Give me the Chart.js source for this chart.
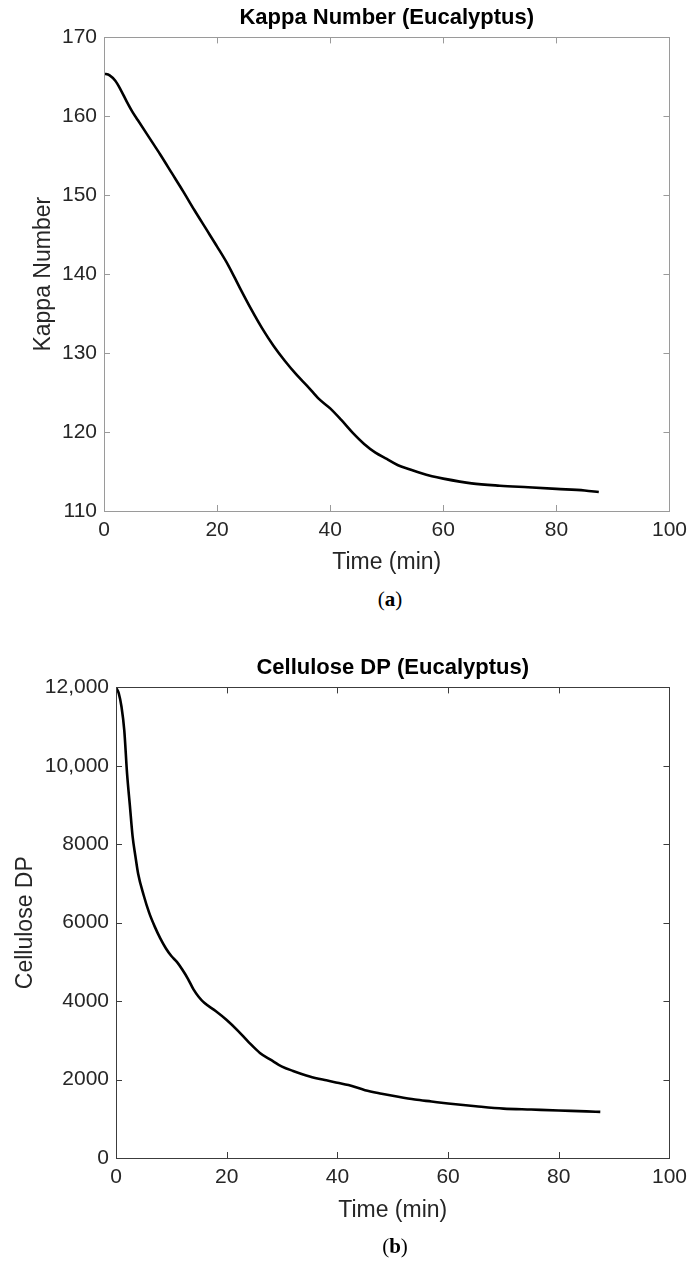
<!DOCTYPE html>
<html lang="en">
<head>
<meta charset="UTF-8">
<title>Kappa Number and Cellulose DP (Eucalyptus)</title>
<script src="https://cdn.jsdelivr.net/npm/chart.js"></script>
<style>
  body { margin: 0; background: #fff; width: 694px; height: 1261px; position: relative; overflow: hidden; }
  .box { position: absolute; left: 0; width: 694px; }
  .sub { position: absolute; width: 100px; text-align: center; font-family: "Liberation Serif", serif; font-size: 21px; color: #000; }
  .sub b { font-weight: bold; }
</style>
</head>
<body>
<div class="box" style="top:0; height:580px;"><canvas id="chartA"></canvas></div>
<div class="sub" style="left:340px; top:587px;">(<b>a</b>)</div>
<div class="box" style="top:640px; height:600px;"><canvas id="chartB"></canvas></div>
<div class="sub" style="left:345px; top:1234px;">(<b>b</b>)</div>

<script>
// kappa number vs time
const timeA  = [0, 1, 2, 3, 4, 5, 6, 8, 10, 12, 14, 16, 18, 20, 22, 24, 26, 28, 30, 32, 34, 36, 38, 40, 42, 44, 46, 48, 50, 52, 54, 56, 58, 60, 65, 70, 75, 80, 85, 87.5];
const kappaA = [165.4, 165.2, 164.5, 163.3, 161.9, 160.6, 159.5, 157.3, 155.1, 152.8, 150.5, 148.1, 145.8, 143.5, 141.1, 138.3, 135.6, 133.1, 130.9, 129.0, 127.3, 125.8, 124.2, 123.0, 121.5, 119.9, 118.5, 117.4, 116.6, 115.8, 115.3, 114.8, 114.4, 114.1, 113.5, 113.2, 113.0, 112.8, 112.6, 112.4];

// cellulose DP vs time
const timeB = [0, 0.5, 1, 1.5, 2, 2.5, 3, 3.5, 4, 5, 6, 7, 8, 9, 10, 11, 12, 13, 14, 15, 16, 18, 20, 22, 24, 26, 28, 30, 32, 35, 38, 40, 42, 45, 48, 51, 54, 57, 60, 65, 70, 75, 80, 85, 87.5];
const dpB   = [12000, 11850, 11500, 10900, 9800, 9000, 8200, 7700, 7250, 6700, 6250, 5900, 5600, 5350, 5150, 5000, 4800, 4570, 4300, 4100, 3950, 3750, 3520, 3250, 2950, 2680, 2500, 2330, 2220, 2080, 1980, 1920, 1860, 1730, 1640, 1560, 1490, 1440, 1390, 1320, 1260, 1235, 1210, 1190, 1175];

const yTicksA = ['110', '120', '130', '140', '150', '160', '170'];
const yTicksB = ['0', '2000', '4000', '6000', '8000', '10,000', '12,000'];

const FONT = '"Liberation Sans", Arial, sans-serif';
const TXT = '#262626';

// MATLAB-like box with inward ticks on all four sides
const boxTicks = {
  id: 'boxTicks',
  afterDatasetsDraw(chart, args, opts) {
    const ctx = chart.ctx;
    const a = chart.chartArea;
    const xs = chart.scales.x, ys = chart.scales.y;
    const len = 6;
    ctx.save();
    ctx.strokeStyle = opts.color;
    ctx.lineWidth = 1;
    ctx.beginPath();
    xs.ticks.forEach(t => {
      const px = Math.round(xs.getPixelForValue(t.value)) + 0.5;
      ctx.moveTo(px, a.bottom); ctx.lineTo(px, a.bottom - len);
      ctx.moveTo(px, a.top); ctx.lineTo(px, a.top + len);
    });
    ys.ticks.forEach(t => {
      const py = Math.round(ys.getPixelForValue(t.value)) + 0.5;
      ctx.moveTo(a.left, py); ctx.lineTo(a.left + len, py);
      ctx.moveTo(a.right, py); ctx.lineTo(a.right - len, py);
    });
    ctx.stroke();
    ctx.strokeRect(Math.round(a.left) + 0.5, Math.round(a.top) + 0.5, Math.round(a.right - a.left), Math.round(a.bottom - a.top));
    ctx.restore();
  }
};

function makeChart(id, xs, ys, cfg) {
  return new Chart(document.getElementById(id), {
    type: 'line',
    data: {
      datasets: [{
        data: xs.map((x, i) => ({ x: x, y: ys[i] })),
        borderColor: '#000',
        borderWidth: 2.6,
        pointRadius: 0,
        cubicInterpolationMode: 'monotone',
        fill: false
      }]
    },
    options: {
      responsive: true,
      maintainAspectRatio: false,
      animation: false,
      layout: { padding: { left: 0, right: cfg.right, top: 0, bottom: 0 } },
      plugins: {
        legend: { display: false },
        tooltip: { enabled: false },
        title: {
          display: true,
          fullSize: false,
          text: cfg.title,
          color: '#000',
          font: { family: FONT, size: 22, weight: 'bold' },
          padding: cfg.titlePad
        },
        boxTicks: { color: cfg.axisColor }
      },
      scales: {
        x: {
          type: 'linear',
          min: 0, max: 100,
          grid: { display: false, drawTicks: false },
          border: { display: false },
          ticks: { stepSize: 20, color: TXT, font: { family: FONT, size: 21 }, padding: 7, maxRotation: 0 },
          title: { display: true, text: 'Time (min)', color: TXT, font: { family: FONT, size: 23 }, padding: { top: 0, bottom: cfg.xTitleBottom } },
          afterFit: s => { s.height = cfg.xHeight; }
        },
        y: {
          type: 'linear',
          min: cfg.ymin, max: cfg.ymax,
          grid: { display: false, drawTicks: false },
          border: { display: false },
          ticks: {
            stepSize: cfg.ystep, color: TXT, font: { family: FONT, size: 21 }, padding: 7,
            callback: (v, i) => cfg.yLabels[i]
          },
          title: { display: true, text: cfg.ytitle, color: TXT, font: { family: FONT, size: 23 }, padding: { top: cfg.yTitleLeft, bottom: 0 } },
          afterFit: s => { s.width = cfg.yWidth; }
        }
      }
    },
    plugins: [boxTicks]
  });
}

makeChart('chartA', timeA, kappaA, {
  title: 'Kappa Number (Eucalyptus)',
  ytitle: 'Kappa Number',
  ymin: 110, ymax: 170, ystep: 10, yLabels: yTicksA,
  right: 20, yWidth: 104, xHeight: 69,
  titlePad: { top: 5, bottom: 6 },
  xTitleBottom: 4, yTitleLeft: 30,
  axisColor: '#9a9a9a'
});

makeChart('chartB', timeB, dpB, {
  title: 'Cellulose DP (Eucalyptus)',
  ytitle: 'Cellulose DP',
  ymin: 0, ymax: 12000, ystep: 2000, yLabels: yTicksB,
  right: 20, yWidth: 116, xHeight: 82,
  titlePad: { top: 15, bottom: 6 },
  xTitleBottom: 16, yTitleLeft: 12,
  axisColor: '#3c3c3c'
});
</script>
</body>
</html>
